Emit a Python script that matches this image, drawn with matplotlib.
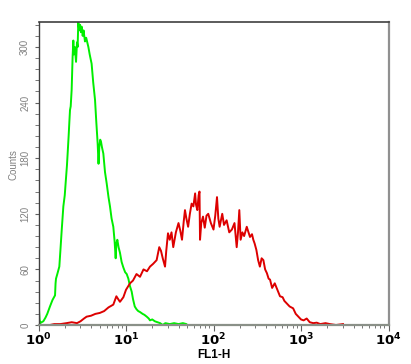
import matplotlib
matplotlib.use("Agg")
import matplotlib.pyplot as plt
from matplotlib.ticker import FixedLocator, LogLocator, NullFormatter

plt.rcParams['font.family'] = ['Liberation Sans', 'DejaVu Sans']

# Log10 of FL1-H channel positions and counts
green_exp = [0.000, 0.005, 0.012, 0.020, 0.035, 0.055, 0.08, 0.10, 0.131, 0.16, 0.189, 0.195, 0.200,
             0.215, 0.238, 0.25, 0.265, 0.284, 0.30, 0.31, 0.325, 0.333, 0.345, 0.352, 0.36, 0.368,
             0.379, 0.39, 0.398, 0.405, 0.415, 0.429, 0.44, 0.447, 0.455, 0.465, 0.475, 0.485, 0.493,
             0.505, 0.515, 0.531, 0.545, 0.57, 0.585, 0.607, 0.625, 0.646, 0.66, 0.676, 0.686, 0.695,
             0.705, 0.714, 0.725, 0.741, 0.76, 0.779, 0.80, 0.817, 0.835, 0.855, 0.87, 0.882, 0.89,
             0.901, 0.915, 0.931, 0.95, 0.97, 0.99, 1.008, 1.027, 1.045, 1.065, 1.08, 1.09, 1.10,
             1.12, 1.14, 1.16, 1.19, 1.21, 1.237, 1.26, 1.274, 1.30, 1.33, 1.36, 1.39, 1.42, 1.45,
             1.5, 1.55, 1.6, 1.65, 1.69, 1.70]
green_counts = [16, 18, 6, 2, 3, 4, 8, 12, 20, 27, 32, 45, 50,
                55, 63, 80, 102, 128, 140, 153, 172, 185, 205, 218, 232, 236,
                254, 290, 307, 292, 300, 284, 305, 300, 327, 318, 324, 316, 322,
                312, 318, 306, 310, 300, 292, 282, 262, 243, 220, 196, 174, 192,
                200, 198, 192, 185, 165, 153, 138, 128, 115, 106, 90, 72, 88,
                92, 84, 78, 68, 62, 57, 55, 50, 42, 36, 28, 24, 20,
                17, 15, 14, 12, 11, 9, 7, 5, 6, 4, 3, 2, 0, 2,
                1, 2, 1, 2, 1, 0]

red_exp = [0.13, 0.18, 0.25, 0.32, 0.38, 0.44, 0.48, 0.52, 0.55, 0.6, 0.65, 0.70, 0.75, 0.80,
           0.855, 0.89, 0.91, 0.931, 0.97, 1.0, 1.046, 1.08, 1.12, 1.16, 1.2, 1.24, 1.274, 1.31,
           1.35, 1.38, 1.40, 1.42, 1.446, 1.46, 1.48, 1.50, 1.52, 1.54, 1.57, 1.6, 1.62, 1.64,
           1.66, 1.674, 1.69, 1.71, 1.73, 1.75, 1.77, 1.79, 1.80, 1.815, 1.83, 1.84, 1.846, 1.86,
           1.88, 1.90, 1.92, 1.94, 1.97, 2.0, 2.02, 2.04, 2.055, 2.07, 2.10, 2.12, 2.15, 2.18,
           2.21, 2.24, 2.265, 2.28, 2.295, 2.31, 2.33, 2.35, 2.38, 2.40, 2.417, 2.44, 2.455, 2.47,
           2.49, 2.51, 2.53, 2.55, 2.57, 2.59, 2.61, 2.63, 2.646, 2.67, 2.70, 2.73, 2.76, 2.79,
           2.81, 2.84, 2.87, 2.91, 2.94, 2.97, 3.0, 3.03, 3.065, 3.1, 3.14, 3.18, 3.22, 3.28,
           3.33, 3.40, 3.48]
red_counts = [0, 1, 1, 2, 3, 2, 4, 7, 9, 10, 12, 13, 15, 19,
              22, 31, 28, 25, 30, 38, 45, 48, 55, 52, 60, 58, 63, 66,
              70, 84, 80, 72, 63, 80, 99, 92, 100, 84, 100, 110, 102, 92,
              112, 124, 115, 106, 120, 131, 128, 142, 130, 124, 140, 144, 92, 110,
              117, 105, 118, 120, 110, 103, 118, 138, 115, 106, 120, 108, 113, 100,
              103, 110, 84, 100, 124, 92, 100, 96, 106, 100, 95, 98, 92, 88,
              81, 70, 63, 72, 70, 60, 56, 50, 49, 40, 45, 38, 31, 30,
              26, 23, 20, 18, 12, 9, 6, 5, 7, 3, 2, 2.5, 1, 2,
              1, 0, 1]

y_ticks = [0, 60, 120, 180, 240, 300]
x_decades = [1, 10, 100, 1000, 10000]
x_tick_labels = [r'$\mathbf{10^{0}}$', r'$\mathbf{10^{1}}$', r'$\mathbf{10^{2}}$',
                 r'$\mathbf{10^{3}}$', r'$\mathbf{10^{4}}$']

green_x = [10 ** e for e in green_exp]
red_x = [10 ** e for e in red_exp]

fig = plt.figure(figsize=(4.11, 3.64), dpi=100)
ax = fig.add_axes([38.5 / 411, 39 / 364, 350 / 411, 303 / 364])

ax.plot(green_x, green_counts, color='#00ee00', lw=1.4)
ax.plot(red_x, red_counts, color='#dd0000', lw=1.4)

ax.set_xscale('log')
ax.set_xlim(1, 10000)
ax.set_ylim(0, 327)

ax.set_xticks(x_decades)
ax.set_xticklabels(x_tick_labels, fontsize=9.5)
ax.xaxis.set_minor_locator(LogLocator(base=10, subs=range(2, 10)))
ax.xaxis.set_minor_formatter(NullFormatter())

ax.set_yticks(y_ticks)
ax.set_yticklabels([str(v) for v in y_ticks], rotation=90, va='center',
                   fontsize=7, color='#808080')
ax.yaxis.set_minor_locator(FixedLocator(list(range(0, 328, 12))))

ax.tick_params(axis='x', which='major', direction='out', length=4, color='#606060', pad=0.5)
ax.tick_params(axis='x', which='minor', direction='out', length=2.5, color='#606060')
ax.tick_params(axis='y', which='major', direction='out', length=3, color='#606060', pad=3)
ax.tick_params(axis='y', which='minor', direction='out', length=3, color='#606060')

ax.set_xlabel('FL1-H', fontsize=8.5, fontweight='bold', labelpad=0.5)
ax.set_ylabel('Counts', fontsize=7, color='#808080')
ax.yaxis.set_label_coords(-0.058, 0.528)

ax.spines['left'].set_color('#404040')
ax.spines['left'].set_linewidth(1.0)
ax.spines['top'].set_color('#404040')
ax.spines['top'].set_linewidth(1.2)
ax.spines['right'].set_color('#909090')
ax.spines['right'].set_linewidth(1.6)
ax.spines['bottom'].set_color('#8a9088')
ax.spines['bottom'].set_linewidth(1.6)

fig.savefig('out.png', dpi=100)
